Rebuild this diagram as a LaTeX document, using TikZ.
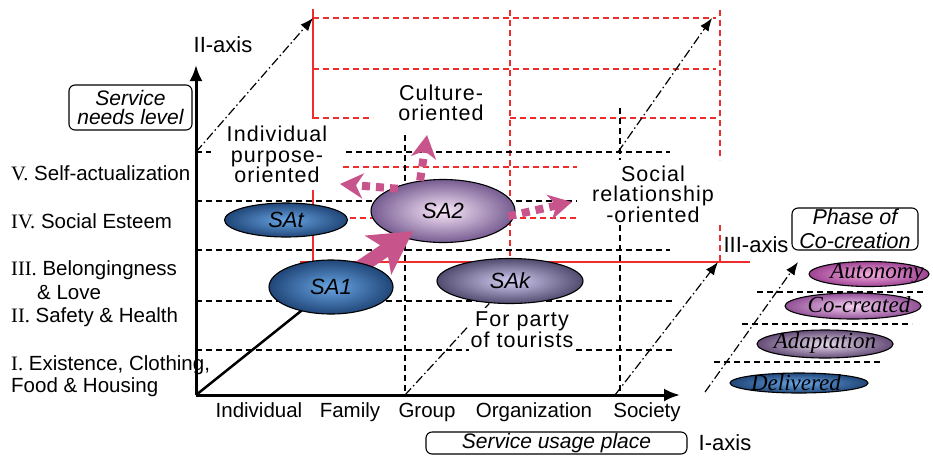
\documentclass[tikz,border=0pt]{standalone}
\usepackage{fontspec}
\setmainfont{Liberation Sans}
\newfontfamily\serifrm{Liberation Serif}
\newfontfamily\spacedsans[LetterSpace=5]{Liberation Sans}
\usetikzlibrary{shapes.geometric,arrows.meta}
\definecolor{blueIn}{RGB}{105,165,228}
\definecolor{blueOut}{RGB}{32,70,120}
\definecolor{sa2In}{RGB}{250,232,250}
\definecolor{sa2Out}{RGB}{118,92,145}
\definecolor{sakIn}{RGB}{210,205,242}
\definecolor{sakOut}{RGB}{82,75,112}
\definecolor{adIn}{RGB}{232,218,238}
\definecolor{adOut}{RGB}{100,76,118}
\definecolor{coIn}{RGB}{246,208,242}
\definecolor{coOut}{RGB}{145,80,150}
\definecolor{auIn}{RGB}{246,172,222}
\definecolor{auOut}{RGB}{158,68,148}
\definecolor{pinka}{RGB}{200,84,140}
\definecolor{redl}{RGB}{240,45,45}
\begin{document}
\begin{tikzpicture}[x=1pt,y=-1pt,
  txt/.style={font=\fontsize{20.5}{19.5}\selectfont, inner sep=0pt},
  calltxt/.style={font=\spacedsans\fontsize{21.5}{20.5}\selectfont, inner sep=0pt, align=center},
  axlbl/.style={font=\fontsize{22}{22}\selectfont, inner sep=0pt},
  itbox/.style={draw, line width=1.1pt, rounded corners=6pt, inner sep=0pt, align=center,
    font=\fontsize{21}{19}\selectfont\itshape},
  blkdash/.style={line width=1.3pt, dash pattern=on 6pt off 4pt},
  reddash/.style={draw=redl, line width=1.2pt, dash pattern=on 6pt off 4pt},
  redsolid/.style={draw=redl, line width=1.5pt},
  dashdot/.style={line width=1.2pt, dash pattern=on 9pt off 3pt on 1.5pt off 3pt},
  ddarrow/.style={dashdot, -{Latex[length=13pt,width=10pt]}},
  axisline/.style={line width=3pt, -{Latex[length=16pt,width=13pt]}},
  sael/.style={ellipse, draw, line width=1.1pt, inner sep=0pt,
    font=\fontsize{22}{22}\selectfont\itshape},
  phel/.style={ellipse, draw, line width=1.1pt, inner sep=0pt},
  phtxt/.style={font=\fontsize{23}{23}\selectfont\serifrm\itshape, inner sep=0pt},
  dotarrow/.style={draw=pinka, line width=8pt, dash pattern=on 8pt off 6pt,
    -{Stealth[length=23pt,width=25pt,inset=7pt]}},
  bigarrow/.style={draw=pinka, line width=14pt,
    -{Stealth[length=42pt,width=46pt,inset=10pt]}}
]
\useasboundingbox (0,0) rectangle (933,456);

% ---- rear (red) plane
\draw[redsolid] (313,9) -- (313,262);
\draw[redsolid] (300,262) -- (750,262);
\draw[reddash] (510,10) -- (510,262);
\draw[reddash] (720,10) -- (720,160) (720,225) -- (720,262);
\draw[reddash] (313,18) -- (716,18);
\draw[reddash] (313,69) -- (716,69);
\draw[reddash] (313,118) -- (373,118) (510,118) -- (716,118);
\draw[reddash] (343,167) -- (577,167);
\draw[reddash] (350,218) -- (577,218);

% ---- black grid
\draw[blkdash] (196,152) -- (670,152);
\draw[blkdash] (196,201) -- (577,201);
\draw[blkdash] (196,250) -- (670,250);
\draw[blkdash] (196,301) -- (673,301);
\draw[blkdash] (196,350) -- (673,350);
\draw[blkdash] (405,135) -- (405,395);
\draw[blkdash] (620,108) -- (620,160) (620,225) -- (620,395);

% ---- coordinates
\coordinate (O) at (196,395);
\coordinate (Itip) at (680,395);
\coordinate (IItip) at (196,65);
\coordinate (grpbase) at (405,395);
\coordinate (socbase) at (615,395);
\coordinate (socbaseup) at (618,152);
\coordinate (lefttop) at (196,152);
\coordinate (redtl) at (313,18);
\coordinate (redtr) at (712,18);
\coordinate (redbr) at (718,262);
\coordinate (phbase) at (705,392);
\coordinate (phtip) at (798,262);
\coordinate (c1) at (331,287);
\coordinate (c2) at (443,211);
\coordinate (cultTip) at (427,135);
\coordinate (indTip) at (340,184);
\coordinate (socTip) at (572,202);

% ---- dash-dot line from Group to SAk (under the label)
\draw[dashdot] (grpbase) -- (510,281);

% ---- text labels
\node[calltxt, fill=white, minimum width=132pt, minimum height=71pt] (indiv) at (277,154.5)
  {Individual\\purpose-\\oriented};
\node[calltxt] (cult) at (441,103) {Culture-\\oriented};
\node[calltxt] (socrel) at (653,194) {Social\\relationship\\-oriented};
\node[calltxt, fill=white, minimum width=106pt, minimum height=44pt,
      font=\spacedsans\fontsize{21.5}{19.5}\selectfont] (party) at (522,330) {For party\\of tourists};

% ---- dash-dot arrows
\draw[ddarrow] (lefttop) -- (redtl);
\draw[ddarrow] (socbaseup) -- (redtr);
\draw[ddarrow] (socbase) -- (redbr);

% ---- axes
\draw[axisline] (O) -- (Itip);
\draw[axisline] (O) -- (IItip);

% ---- ellipses and arrows
\node[sael, inner color=sa2In, outer color=sa2Out, minimum width=144pt, minimum height=63pt] (SA2) at (c2) {SA2};
\draw[bigarrow, shorten >=36pt] (c1) -- (c2);
\draw[line width=2.5pt] (O) -- (331,287);
\node[sael, inner color=blueIn, outer color=blueOut, minimum width=124pt, minimum height=54pt] (SA1) at (c1) {SA1};
\node[sael, inner color=blueIn, outer color=blueOut, minimum width=123pt, minimum height=34pt] (SAt) at (286,220) {SAt};
\node[sael, inner color=sakIn, outer color=sakOut, minimum width=146pt, minimum height=45pt] (SAk) at (510,281) {SAk};

\draw[dotarrow] (SA2.127) -- (cultTip);
\draw[dotarrow, shorten <=-6pt] (SA2.156) -- (indTip);
\draw[dotarrow, shorten <=-7pt] (SA2.-3) -- (socTip);

% ---- phase of co-creation
\draw[blkdash, line width=1.6pt] (757,292) -- (925,292);
\draw[blkdash, line width=1.6pt] (742,324) -- (912,324);
\draw[blkdash, line width=1.6pt] (714,362) -- (883,362);
\draw[ddarrow] (phbase) -- (phtip);
\node[phel, inner color=auIn, outer color=auOut, minimum width=120pt, minimum height=25pt] (auto) at (869,274) {};
\node[phtxt] (autot) at (877,273) {Autonomy};
\node[phel, inner color=coIn, outer color=coOut, minimum width=136pt, minimum height=26pt] (cocr) at (853,306) {};
\node[phtxt] (cocrt) at (859,305) {Co-created};
\node[phel, inner color=adIn, outer color=adOut, minimum width=136pt, minimum height=28pt] (adap) at (825,344) {};
\node[phtxt] (adapt) at (825,343) {Adaptation};
\node[phel, inner color=blueIn, outer color=blueOut, minimum width=138pt, minimum height=20pt] (deliv) at (799,383) {};
\node[phtxt] (delivt) at (796,383) {Delivered};

\node[itbox, fill=white, minimum width=126pt, minimum height=42pt, font=\fontsize{21.5}{24}\selectfont\itshape] (phase) at (855,229) {Phase of\\Co-creation};

% ---- boxes
\node[itbox, minimum width=123pt, minimum height=45pt] (needs) at (130.5,107.5) {Service\\needs level};
\node[itbox, minimum width=261pt, minimum height=22pt] (usage) at (556.5,443) {Service usage place};

% ---- axis names
\node[axlbl] (IIlab) at (223,45) {II-axis};
\node[axlbl] (Ilab) at (725,443) {I-axis};
\node[axlbl] (IIIlab) at (756,245) {III-axis};

% ---- level labels
\node[txt, anchor=base west] (l5) at (11,180.3) {{\serifrm V.} Self-actualization};
\node[txt, anchor=base west] (l4) at (11,228.3) {{\serifrm IV.} Social Esteem};
\node[txt, anchor=base west] (l3) at (11,275.3) {{\serifrm III.} Belongingness};
\node[txt, anchor=base west] (l3b) at (37,299.3) {\& Love};
\node[txt, anchor=base west] (l2) at (11,322.3) {{\serifrm II.} Safety \& Health};
\node[txt, anchor=base west] (l1) at (11,370.3) {{\serifrm I.} Existence, Clothing,};
\node[txt, anchor=base west] (l1b) at (11,392.3) {Food \& Housing};

% ---- place labels
\node[txt, anchor=base] (pind) at (259,417.4) {Individual};
\node[txt, anchor=base] (pfam) at (350,417.4) {Family};
\node[txt, anchor=base] (pgrp) at (427,417.4) {Group};
\node[txt, anchor=base] (porg) at (534,417.4) {Organization};
\node[txt, anchor=base] (psoc) at (647,417.4) {Society};
\end{tikzpicture}
\end{document}
